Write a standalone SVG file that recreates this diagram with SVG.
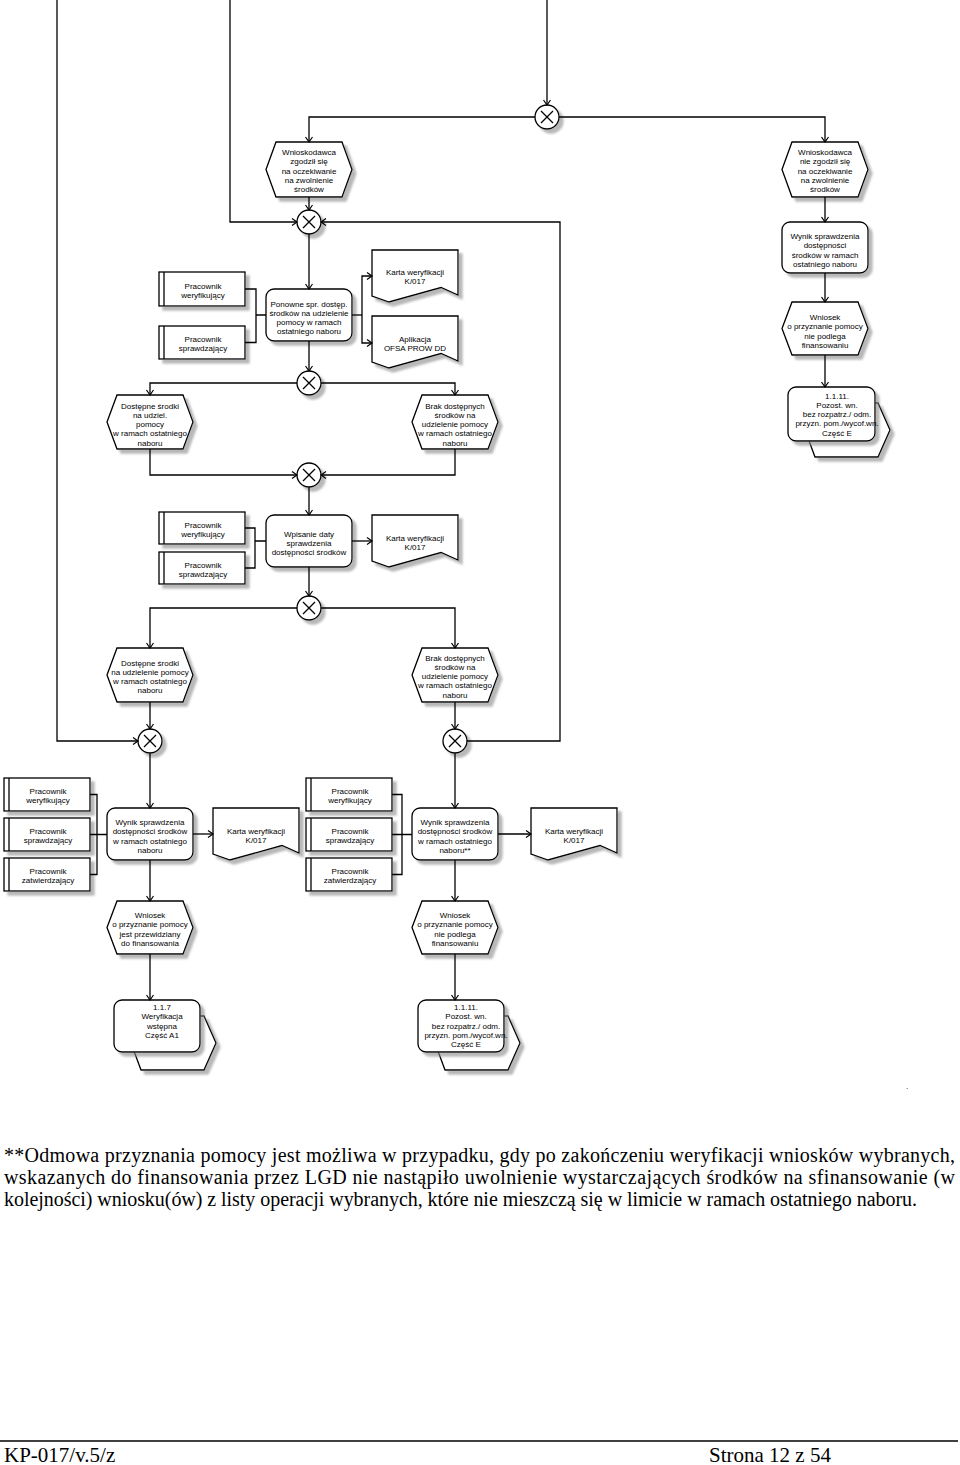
<svg xmlns="http://www.w3.org/2000/svg" width="960" height="1465" viewBox="0 0 960 1465">
<defs>
<filter id="sh" x="-20%" y="-20%" width="150%" height="150%"><feDropShadow dx="4" dy="4" stdDeviation="1.2" flood-color="#888" flood-opacity="0.6"/></filter>
<marker id="ar" markerWidth="8" markerHeight="8" refX="6" refY="4" orient="auto" markerUnits="userSpaceOnUse"><path d="M1,0.5 L6,4 L1,7.5" fill="none" stroke="#000" stroke-width="1.2"/></marker>
<style>
.n{fill:#fff;stroke:#000;stroke-width:1.3;filter:url(#sh)}
.l{fill:none;stroke:#000;stroke-width:1.3}
.c{fill:none;stroke:#000;stroke-width:1.3}
.a{marker-end:url(#ar)}
.t{font-family:"Liberation Sans",Arial,sans-serif;font-size:8px;text-anchor:middle;fill:#000}
.f{font-family:"Liberation Serif","Times New Roman",serif;font-size:20px;fill:#000}
.ft{font-family:"Liberation Serif","Times New Roman",serif;font-size:21px;fill:#000}
</style>
</defs>
<rect width="960" height="1465" fill="#fff"/>

<!-- XOR gates -->
<g id="xor1"><circle class="n" cx="547" cy="117" r="12"/><path class="l" d="M541,111 L553,123 M553,111 L541,123"/></g>
<g id="xor2"><circle class="n" cx="309" cy="222" r="12"/><path class="l" d="M303,216 L315,228 M315,216 L303,228"/></g>
<g id="xor3"><circle class="n" cx="309" cy="383" r="12"/><path class="l" d="M303,377 L315,389 M315,377 L303,389"/></g>
<g id="xor4"><circle class="n" cx="309" cy="475" r="12"/><path class="l" d="M303,469 L315,481 M315,469 L303,481"/></g>
<g id="xor5"><circle class="n" cx="309" cy="608" r="12"/><path class="l" d="M303,602 L315,614 M315,602 L303,614"/></g>
<g id="xor6"><circle class="n" cx="150" cy="741" r="12"/><path class="l" d="M144,735 L156,747 M156,735 L144,747"/></g>
<g id="xor7"><circle class="n" cx="455" cy="741" r="12"/><path class="l" d="M449,735 L461,747 M461,735 L449,747"/></g>

<!-- Events -->
<g id="e1"><polygon class="n" points="276,142 342,142 352,169.5 342,197 276,197 266,169.5"/>
<text class="t" y="155"><tspan x="309">Wnioskodawca</tspan><tspan x="309" dy="9.3">zgodził się</tspan><tspan x="309" dy="9.3">na oczekiwanie</tspan><tspan x="309" dy="9.3">na zwolnienie</tspan><tspan x="309" dy="9.3">środków</tspan></text></g>
<g id="e2"><polygon class="n" points="792,142 858,142 868,169.5 858,197 792,197 782,169.5"/>
<text class="t" y="155"><tspan x="825">Wnioskodawca</tspan><tspan x="825" dy="9.3">nie zgodził się</tspan><tspan x="825" dy="9.3">na oczekiwanie</tspan><tspan x="825" dy="9.3">na zwolnienie</tspan><tspan x="825" dy="9.3">środków</tspan></text></g>
<g id="e3"><polygon class="n" points="792,302 858,302 868,328.5 858,355 792,355 782,328.5"/>
<text class="t" y="320"><tspan x="825">Wniosek</tspan><tspan x="825" dy="9.3">o przyznanie pomocy</tspan><tspan x="825" dy="9.3">nie podlega</tspan><tspan x="825" dy="9.3">finansowaniu</tspan></text></g>
<g id="e4"><polygon class="n" points="117,395 183,395 193,422 183,449 117,449 107,422"/>
<text class="t" y="408.5"><tspan x="150">Dostępne środki</tspan><tspan x="150" dy="9.3">na udziel.</tspan><tspan x="150" dy="9.3">pomocy</tspan><tspan x="150" dy="9.3">w ramach  ostatniego</tspan><tspan x="150" dy="9.3">naboru</tspan></text></g>
<g id="e5"><polygon class="n" points="422,395 488,395 498,422 488,449 422,449 412,422"/>
<text class="t" y="408.5"><tspan x="455">Brak dostępnych</tspan><tspan x="455" dy="9.3">środków na</tspan><tspan x="455" dy="9.3">udzielenie pomocy</tspan><tspan x="455" dy="9.3">w ramach  ostatniego</tspan><tspan x="455" dy="9.3">naboru</tspan></text></g>
<g id="e6"><polygon class="n" points="117,648 183,648 193,675 183,702 117,702 107,675"/>
<text class="t" y="665.5"><tspan x="150">Dostępne środki</tspan><tspan x="150" dy="9.3">na udzielenie pomocy</tspan><tspan x="150" dy="9.3">w ramach  ostatniego</tspan><tspan x="150" dy="9.3">naboru</tspan></text></g>
<g id="e7"><polygon class="n" points="422,648 488,648 498,675 488,702 422,702 412,675"/>
<text class="t" y="660.5"><tspan x="455">Brak dostępnych</tspan><tspan x="455" dy="9.3">środków na</tspan><tspan x="455" dy="9.3">udzielenie pomocy</tspan><tspan x="455" dy="9.3">w ramach  ostatniego</tspan><tspan x="455" dy="9.3">naboru</tspan></text></g>
<g id="e8"><polygon class="n" points="117,901 183,901 193,927.5 183,954 117,954 107,927.5"/>
<text class="t" y="918"><tspan x="150">Wniosek</tspan><tspan x="150" dy="9.3">o przyznanie pomocy</tspan><tspan x="150" dy="9.3">jest przewidziany</tspan><tspan x="150" dy="9.3">do finansowania</tspan></text></g>
<g id="e9"><polygon class="n" points="422,901 488,901 498,927.5 488,954 422,954 412,927.5"/>
<text class="t" y="918"><tspan x="455">Wniosek</tspan><tspan x="455" dy="9.3">o przyznanie pomocy</tspan><tspan x="455" dy="9.3">nie podlega</tspan><tspan x="455" dy="9.3">finansowaniu</tspan></text></g>

<!-- Functions -->
<g id="f1"><rect class="n" x="266" y="289" width="86" height="52" rx="8"/>
<text class="t" y="306.5"><tspan x="309">Ponowne spr. dostęp.</tspan><tspan x="309" dy="9.3">środków na udzielenie</tspan><tspan x="309" dy="9.3">pomocy w ramach</tspan><tspan x="309" dy="9.3">ostatniego naboru</tspan></text></g>
<g id="f2"><rect class="n" x="782" y="222" width="86" height="51" rx="8"/>
<text class="t" y="239"><tspan x="825">Wynik sprawdzenia</tspan><tspan x="825" dy="9.3">dostępności</tspan><tspan x="825" dy="9.3">środków w ramach</tspan><tspan x="825" dy="9.3">ostatniego naboru</tspan></text></g>
<g id="f3"><rect class="n" x="266" y="515" width="86" height="52" rx="8"/>
<text class="t" y="536.5"><tspan x="309">Wpisanie daty</tspan><tspan x="309" dy="9.3">sprawdzenia</tspan><tspan x="309" dy="9.3">dostępności środków</tspan></text></g>
<g id="f4"><rect class="n" x="107" y="808" width="86" height="52" rx="8"/>
<text class="t" y="825"><tspan x="150">Wynik sprawdzenia</tspan><tspan x="150" dy="9.3">dostępności środków</tspan><tspan x="150" dy="9.3">w ramach  ostatniego</tspan><tspan x="150" dy="9.3">naboru</tspan></text></g>
<g id="f5"><rect class="n" x="412" y="808" width="86" height="52" rx="8"/>
<text class="t" y="825"><tspan x="455">Wynik sprawdzenia</tspan><tspan x="455" dy="9.3">dostępności środków</tspan><tspan x="455" dy="9.3">w ramach ostatniego</tspan><tspan x="455" dy="9.3">naboru**</tspan></text></g>

<!-- Organisational units -->
<g id="o1a"><rect class="n" x="159" y="272" width="86" height="34"/><path class="l" d="M164,272 V306"/>
<text class="t" y="288.5"><tspan x="203">Pracownik</tspan><tspan x="203" dy="9.3">weryfikujący</tspan></text></g>
<g id="o1b"><rect class="n" x="159" y="326" width="86" height="33"/><path class="l" d="M164,326 V359"/>
<text class="t" y="341.5"><tspan x="203">Pracownik</tspan><tspan x="203" dy="9.3">sprawdzający</tspan></text></g>
<g id="o3a"><rect class="n" x="159" y="512" width="86" height="32"/><path class="l" d="M164,512 V544"/>
<text class="t" y="527.5"><tspan x="203">Pracownik</tspan><tspan x="203" dy="9.3">weryfikujący</tspan></text></g>
<g id="o3b"><rect class="n" x="159" y="552" width="86" height="32"/><path class="l" d="M164,552 V584"/>
<text class="t" y="567.5"><tspan x="203">Pracownik</tspan><tspan x="203" dy="9.3">sprawdzający</tspan></text></g>
<g id="o4a"><rect class="n" x="4" y="778" width="86" height="33"/><path class="l" d="M9,778 V811"/>
<text class="t" y="794"><tspan x="48">Pracownik</tspan><tspan x="48" dy="9.3">weryfikujący</tspan></text></g>
<g id="o4b"><rect class="n" x="4" y="818" width="86" height="33"/><path class="l" d="M9,818 V851"/>
<text class="t" y="834"><tspan x="48">Pracownik</tspan><tspan x="48" dy="9.3">sprawdzający</tspan></text></g>
<g id="o4c"><rect class="n" x="4" y="858" width="86" height="33"/><path class="l" d="M9,858 V891"/>
<text class="t" y="874"><tspan x="48">Pracownik</tspan><tspan x="48" dy="9.3">zatwierdzający</tspan></text></g>
<g id="o5a"><rect class="n" x="306" y="778" width="86" height="33"/><path class="l" d="M311,778 V811"/>
<text class="t" y="794"><tspan x="350">Pracownik</tspan><tspan x="350" dy="9.3">weryfikujący</tspan></text></g>
<g id="o5b"><rect class="n" x="306" y="818" width="86" height="33"/><path class="l" d="M311,818 V851"/>
<text class="t" y="834"><tspan x="350">Pracownik</tspan><tspan x="350" dy="9.3">sprawdzający</tspan></text></g>
<g id="o5c"><rect class="n" x="306" y="858" width="86" height="33"/><path class="l" d="M311,858 V891"/>
<text class="t" y="874"><tspan x="350">Pracownik</tspan><tspan x="350" dy="9.3">zatwierdzający</tspan></text></g>

<!-- Documents -->
<g id="d1a"><path class="n" d="M372,250 H458 V295 L441,287.5 L389,302 L372,296 Z"/>
<text class="t" y="274.5"><tspan x="415">Karta weryfikacji</tspan><tspan x="415" dy="9">K/017</tspan></text></g>
<g id="d1b"><path class="n" d="M372,316 H458 V361 L441,353.5 L389,368 L372,362 Z"/>
<text class="t" y="341.5"><tspan x="415">Aplikacja</tspan><tspan x="415" dy="9">OFSA PROW DD</tspan></text></g>
<g id="d3"><path class="n" d="M372,515 H458 V560 L441,552.5 L389,567 L372,561 Z"/>
<text class="t" y="541"><tspan x="415">Karta weryfikacji</tspan><tspan x="415" dy="9">K/017</tspan></text></g>
<g id="d4"><path class="n" d="M213,808 H299 V853 L282,845.5 L230,860 L213,854 Z"/>
<text class="t" y="834"><tspan x="256">Karta weryfikacji</tspan><tspan x="256" dy="9">K/017</tspan></text></g>
<g id="d5"><path class="n" d="M531,808 H617 V853 L600,845.5 L548,860 L531,854 Z"/>
<text class="t" y="834"><tspan x="574">Karta weryfikacji</tspan><tspan x="574" dy="9">K/017</tspan></text></g>

<!-- Process interfaces -->
<g id="p1"><polygon class="n" points="815,403 878,403 890,430 878,457 815,457 805,430"/><rect class="n" x="788" y="387" width="87" height="54" rx="8"/>
<text class="t" y="398.5"><tspan x="837">1.1.11.</tspan><tspan x="837" dy="9.3">Pozost. wn.</tspan><tspan x="837" dy="9.3">bez rozpatrz./ odm.</tspan><tspan x="837" dy="9.3">przyzn. pom./wycof.wn.</tspan><tspan x="837" dy="9.3">Część E</tspan></text></g>
<g id="p2"><polygon class="n" points="141,1016 204,1016 216,1043 204,1070 141,1070 131,1043"/><rect class="n" x="114" y="1000" width="86" height="52" rx="8"/>
<text class="t" y="1010"><tspan x="162">1.1.7</tspan><tspan x="162" dy="9.3">Weryfikacja</tspan><tspan x="162" dy="9.3">wstępna</tspan><tspan x="162" dy="9.3">Część A1</tspan></text></g>
<g id="p3"><polygon class="n" points="445,1016 508,1016 520,1043 508,1070 445,1070 435,1043"/><rect class="n" x="418" y="1000" width="86" height="52" rx="8"/>
<text class="t" y="1010"><tspan x="466">1.1.11.</tspan><tspan x="466" dy="9.3">Pozost. wn.</tspan><tspan x="466" dy="9.3">bez rozpatrz./ odm.</tspan><tspan x="466" dy="9.3">przyzn. pom./wycof.wn.</tspan><tspan x="466" dy="9.3">Część E</tspan></text></g>

<!-- Connectors -->
<g id="connectors">
<path class="c a" d="M547,0 V105"/>
<path class="c a" d="M535,117 H309 V142"/>
<path class="c a" d="M559,117 H825 V142"/>
<path class="c a" d="M309,197 V210"/>
<path class="c a" d="M230,0 V222 H297"/>
<path class="c a" d="M467,741 H560 V222 H321"/>
<path class="c a" d="M309,234 V289"/>
<path class="c a" d="M825,197 V222"/>
<path class="c a" d="M825,273 V302"/>
<path class="c a" d="M825,355 V387"/>
<path class="c" d="M245,289 H256 V342.5 H245 M256,315 H266"/>
<path class="c" d="M352,315 H362"/>
<path class="c a" d="M362,315 V276 H372"/>
<path class="c a" d="M362,315 V343 H372"/>
<path class="c a" d="M309,341 V371"/>
<path class="c a" d="M297,383 H150 V395"/>
<path class="c a" d="M321,383 H455 V395"/>
<path class="c a" d="M150,449 V475 H297"/>
<path class="c a" d="M455,449 V475 H321"/>
<path class="c a" d="M309,487 V515"/>
<path class="c" d="M245,528 H255 V568 H245 M255,541 H266"/>
<path class="c a" d="M352,541 H372"/>
<path class="c a" d="M309,567 V596"/>
<path class="c a" d="M297,608 H150 V648"/>
<path class="c a" d="M321,608 H455 V648"/>
<path class="c a" d="M150,702 V729"/>
<path class="c a" d="M455,702 V729"/>
<path class="c a" d="M57,0 V741 H138"/>
<path class="c a" d="M150,753 V808"/>
<path class="c a" d="M455,753 V808"/>
<path class="c" d="M90,794.5 H97 V874.5 H90 M90,834.5 H107"/>
<path class="c a" d="M193,834 H213"/>
<path class="c a" d="M150,860 V901"/>
<path class="c a" d="M150,954 V1000"/>
<path class="c" d="M392,794.5 H402 V874.5 H392 M392,834.5 H412"/>
<path class="c a" d="M498,834 H531"/>
<path class="c a" d="M455,860 V901"/>
<path class="c a" d="M455,954 V1000"/>
</g>

<text class="t" x="907" y="1089">.</text>

<g id="footnote">
<text class="f" x="4" y="1162" textLength="951" lengthAdjust="spacing">**Odmowa przyznania pomocy jest możliwa w przypadku, gdy po zakończeniu weryfikacji wniosków wybranych,</text>
<text class="f" x="4" y="1184" textLength="951" lengthAdjust="spacing">wskazanych do finansowania przez LGD nie nastąpiło uwolnienie wystarczających środków na sfinansowanie (w</text>
<text class="f" x="4" y="1206" textLength="913" lengthAdjust="spacing">kolejności) wniosku(ów) z listy operacji wybranych, które nie mieszczą się w limicie w ramach ostatniego naboru.</text>
</g>
<g id="footer">
<path d="M0,1441 H958" stroke="#000" stroke-width="1.5"/>
<text class="ft" x="4" y="1462">KP-017/v.5/z</text>
<text class="ft" x="709" y="1462">Strona 12 z 54</text>
</g>
</svg>
